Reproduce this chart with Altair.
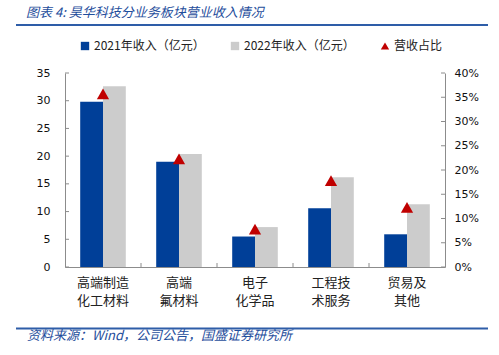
import altair as alt
import pandas as pd

# ---------------- data ----------------
categories = ["高端制造\n化工材料", "高端\n氟材料", "电子\n化学品", "工程技\n术服务", "贸易及\n其他"]
rev_2021 = [29.8, 19.0, 5.5, 10.6, 5.9]
rev_2022 = [32.6, 20.4, 7.2, 16.2, 11.3]
share_2022 = [0.357, 0.223, 0.078, 0.178, 0.123]
series = ["2021年收入（亿元）", "2022年收入（亿元）", "营收占比"]
left_ticks = [0, 5, 10, 15, 20, 25, 30, 35]
right_ticks = [0, 0.05, 0.10, 0.15, 0.20, 0.25, 0.30, 0.35, 0.40]
title_text = "图表 4:  昊华科技分业务板块营业收入情况"
source_text = "资料来源：Wind，公司公告，国盛证券研究所"

# ---------------- style ----------------
W, H = 380, 194
PAD_INNER, PAD_OUTER = 0.4, 0.2
BLUE = "#003F98"
GRAY = "#CCCCCC"
RED = "#C00000"
AXIS = "#8C8C8C"
TITLE_BLUE = "#1F4E9C"
LINE_BLUE = "#2E5DA8"
CJK = "Noto Sans CJK SC"
NUM = "DejaVu Sans"

bar_df = pd.DataFrame({
    "cat": categories * 2,
    "series": [series[0]] * 5 + [series[1]] * 5,
    "value": rev_2021 + rev_2022,
})
tri_df = pd.DataFrame({"cat": categories, "series": [series[2]] * 5, "share": share_2022})

legend = alt.Legend(
    title=None, orient="none", legendX=14, legendY=-33, direction="horizontal",
    labelFont=CJK, labelFontSize=12, labelColor="#222", symbolSize=70,
    symbolStrokeWidth=0, symbolOpacity=1, columnPadding=24, labelOffset=3, padding=0,
)
color_scale = alt.Scale(domain=series, range=[BLUE, GRAY, RED])
shape_scale = alt.Scale(domain=series, range=["square", "square", "triangle-up"])
x_scale = alt.Scale(domain=categories, paddingInner=PAD_INNER, paddingOuter=PAD_OUTER)
yl_scale = alt.Scale(domain=[0, 35], nice=False)
yr_scale = alt.Scale(domain=[0, 0.4], nice=False)

x_axis = alt.Axis(title=None, labelExpr="isValid(datum.value) ? split(datum.value, '\\n') : ''",
                  labelAngle=0, ticks=False,
                  domainColor=AXIS, labelFont=CJK, labelFontSize=13,
                  labelLineHeight=18, labelPadding=9, labelColor="#222", labelBaseline="top")
yl_axis = alt.Axis(title=None, orient="left", values=left_ticks, ticks=False, grid=False,
                   domainColor=AXIS, labelFont=NUM, labelFontSize=11, labelColor="#111",
                   labelPadding=15)
yr_axis = alt.Axis(title=None, orient="right", values=right_ticks, format=".0%", ticks=False,
                   grid=False, domainColor=AXIS, labelFont=NUM, labelFontSize=11,
                   labelColor="#111", labelPadding=9)

bars = alt.Chart(bar_df).mark_bar().encode(
    x=alt.X("cat:N", scale=x_scale, sort=categories, axis=x_axis),
    xOffset=alt.XOffset("series:N", sort=series[:2]),
    y=alt.Y("value:Q", scale=yl_scale, axis=yl_axis),
    color=alt.Color("series:N", scale=color_scale, legend=legend),
)

# category separators on the x axis (pointing inward): end of each band + half the gap
half_gap = (W / len(categories)) * PAD_INNER / 2
x_tk = alt.Chart(pd.DataFrame({"cat": categories[:-1]})).mark_rule(
    color=AXIS, xOffset=half_gap).encode(
    x=alt.X("cat:N", scale=x_scale, sort=categories, axis=x_axis, bandPosition=1),
    y=alt.value(H - 4), y2=alt.value(H))

left_tk = alt.Chart(pd.DataFrame({"t": left_ticks})).mark_rule(color=AXIS).encode(
    y=alt.Y("t:Q", scale=yl_scale, axis=yl_axis), x=alt.value(0), x2=alt.value(4))

tri = alt.Chart(tri_df).mark_point(filled=True, size=150, opacity=1).encode(
    x=alt.X("cat:N", scale=x_scale, sort=categories, axis=x_axis),
    y=alt.Y("share:Q", scale=yr_scale, axis=yr_axis),
    color=alt.Color("series:N", scale=color_scale, legend=legend),
    shape=alt.Shape("series:N", scale=shape_scale, legend=legend),
)

right_tk = alt.Chart(pd.DataFrame({"t": right_ticks})).mark_rule(color=AXIS).encode(
    y=alt.Y("t:Q", scale=yr_scale, axis=yr_axis), x=alt.value(W - 4), x2=alt.value(W))

dummy = pd.DataFrame({"a": [0]})
title = alt.Chart(pd.DataFrame({"t": [title_text]})).mark_text(
    align="left", baseline="alphabetic", font=CJK, fontSize=13, fontStyle="italic",
    color=TITLE_BLUE, x=-39, y=-56).encode(text="t:N")
top_line = alt.Chart(dummy).mark_rule(color=LINE_BLUE, strokeWidth=2).encode(
    x=alt.value(-49), x2=alt.value(423), y=alt.value(-48))
bot_line = alt.Chart(dummy).mark_rule(color=LINE_BLUE, strokeWidth=2).encode(
    x=alt.value(-49), x2=alt.value(423), y=alt.value(255.5))
source = alt.Chart(pd.DataFrame({"t": [source_text]})).mark_text(
    align="left", baseline="alphabetic", font=CJK, fontSize=13, fontStyle="italic",
    color=TITLE_BLUE, x=-38, y=267).encode(text="t:N")

left_group = alt.layer(bars, x_tk, left_tk, title, top_line, bot_line, source)
right_group = alt.layer(tri, right_tk)

chart = alt.layer(left_group, right_group).resolve_scale(y="independent").properties(
    width=W, height=H,
    autosize=alt.AutoSizeParams(type="none"),
    padding={"left": 65, "top": 73, "right": 54, "bottom": 88},
).configure_view(stroke=None)

chart.save("out.html", embed_options={"renderer": "svg", "actions": False})
